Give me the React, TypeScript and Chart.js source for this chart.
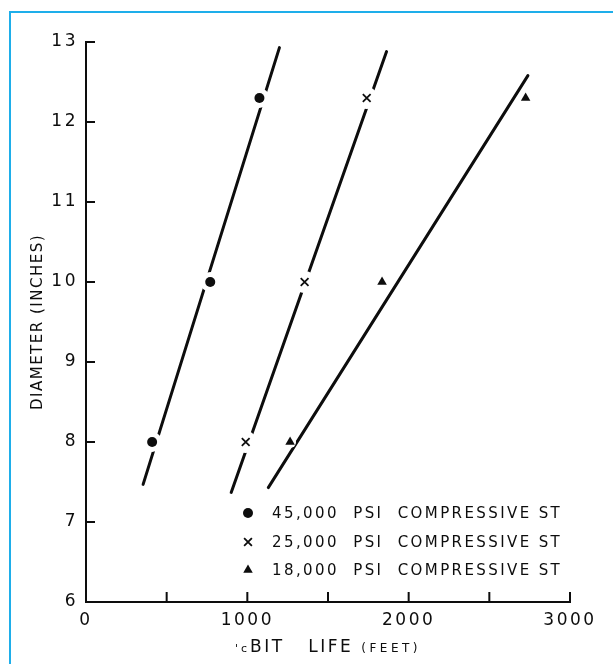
import React, { useEffect, useRef } from 'react';
import { Chart, registerables } from 'chart.js';

Chart.register(...registerables);

// ---- axis ticks ----
const xTickValues = [0, 500, 1000, 1500, 2000, 2500, 3000];
const xTickLabels = ['0', '', '1000', '', '2000', '', '3000'];
const yTickValues = [6, 7, 8, 9, 10, 11, 12, 13];

// ---- titles / legend ----
const xTitleParts = ["'c", 'BIT   LIFE ', '(FEET)'];
const yTitle = 'DIAMETER (INCHES)';
const seriesNames = [
  '45,000  PSI  COMPRESSIVE ST',
  '25,000  PSI  COMPRESSIVE ST',
  '18,000  PSI  COMPRESSIVE ST',
];
const seriesStyles = ['circle', 'crossRot', 'triangle'];

// ---- measured points (bit life in feet, diameter in inches) ----
const life45 = [410, 770, 1075];
const dia45 = [8, 10, 12.3];
const life25 = [990, 1355, 1740];
const dia25 = [8, 10, 12.3];
const life18 = [1265, 1835, 2725];
const dia18 = [8, 10, 12.3];

// ---- fitted lines (end points) ----
const fitLife45 = [354, 1199];
const fitDia45 = [7.47, 12.93];
const fitLife25 = [900, 1863];
const fitDia25 = [7.37, 12.88];
const fitLife18 = [1130, 2739];
const fitDia18 = [7.43, 12.58];

const pts = (xs: number[], ys: number[]) => xs.map((x, i) => ({ x, y: ys[i] }));

const INK = '#0d0d0d';

function drawMarker(ctx: CanvasRenderingContext2D, style: string, x: number, y: number, r: number) {
  ctx.save();
  ctx.fillStyle = INK;
  ctx.strokeStyle = INK;
  if (style === 'circle') {
    ctx.beginPath();
    ctx.arc(x, y, r, 0, Math.PI * 2);
    ctx.fill();
  } else if (style === 'crossRot') {
    const o = r * Math.SQRT1_2;
    ctx.lineWidth = 1.8;
    ctx.beginPath();
    ctx.moveTo(x - o, y - o);
    ctx.lineTo(x + o, y + o);
    ctx.moveTo(x - o, y + o);
    ctx.lineTo(x + o, y - o);
    ctx.stroke();
  } else {
    let a = 0;
    ctx.beginPath();
    ctx.moveTo(x + Math.sin(a) * r, y - Math.cos(a) * r);
    a += (2 * Math.PI) / 3;
    ctx.lineTo(x + Math.sin(a) * r, y - Math.cos(a) * r);
    a += (2 * Math.PI) / 3;
    ctx.lineTo(x + Math.sin(a) * r, y - Math.cos(a) * r);
    ctx.closePath();
    ctx.fill();
  }
  ctx.restore();
}

const decorPlugin = {
  id: 'decor',
  beforeDraw(chart: any) {
    (chart.ctx as any).letterSpacing = '2.5px';
  },
  beforeDatasetsDraw(chart: any) {
    const ctx = chart.ctx as CanvasRenderingContext2D;
    (ctx as any).letterSpacing = '0px';
    const { left, bottom } = chart.chartArea;
    const xs = chart.scales.x;
    const ys = chart.scales.y;
    ctx.save();
    ctx.strokeStyle = INK;
    ctx.lineWidth = 2;
    ctx.beginPath();
    xs.ticks.forEach((t: any) => {
      if (t.value === xs.min) return;
      const px = xs.getPixelForValue(t.value);
      ctx.moveTo(px, bottom);
      ctx.lineTo(px, bottom - 10);
    });
    ys.ticks.forEach((t: any) => {
      if (t.value === ys.min) return;
      const py = ys.getPixelForValue(t.value);
      ctx.moveTo(left, py);
      ctx.lineTo(left + 9, py);
    });
    ctx.stroke();
    ctx.restore();
  },
  afterDraw(chart: any) {
    const ctx = chart.ctx as CanvasRenderingContext2D;
    const { left, right, top, bottom } = chart.chartArea;
    ctx.save();
    ctx.fillStyle = INK;

    // y title
    ctx.save();
    ctx.translate(left - 48, (top + bottom) / 2);
    ctx.rotate(-Math.PI / 2);
    ctx.font = '15px "DejaVu Sans"';
    (ctx as any).letterSpacing = '1.5px';
    ctx.textAlign = 'center';
    ctx.textBaseline = 'middle';
    ctx.fillText(yTitle, 0, 0);
    ctx.restore();

    // x title (mixed sizes)
    const sizes = [11, 17, 12];
    const spacing = [3, 2.5, 3.5];
    let total = 0;
    const widths = xTitleParts.map((t, i) => {
      ctx.font = `${sizes[i]}px "DejaVu Sans"`;
      (ctx as any).letterSpacing = `${spacing[i]}px`;
      const w = ctx.measureText(t).width;
      total += w;
      return w;
    });
    let cx = (left + right) / 2 - total / 2;
    ctx.textAlign = 'left';
    ctx.textBaseline = 'alphabetic';
    xTitleParts.forEach((t, i) => {
      ctx.font = `${sizes[i]}px "DejaVu Sans"`;
      (ctx as any).letterSpacing = `${spacing[i]}px`;
      ctx.fillText(t, cx, bottom + 50);
      cx += widths[i];
    });

    // legend
    const rowOffsets = [471, 500, 528];
    const radii = [5, 5.5, 5.5];
    ctx.font = '15px "DejaVu Sans"';
    (ctx as any).letterSpacing = '2.4px';
    ctx.textBaseline = 'middle';
    seriesNames.forEach((name, i) => {
      const y = top + rowOffsets[i];
      drawMarker(ctx, seriesStyles[i], left + 162, y, radii[i]);
      ctx.fillText(name, left + 186, y + 1);
    });
    ctx.restore();
  },
};

export default function App() {
  const ref = useRef<HTMLCanvasElement>(null);

  useEffect(() => {
    if (!ref.current) return;
    const markerSets = [pts(life45, dia45), pts(life25, dia25), pts(life18, dia18)];
    const fitSets = [pts(fitLife45, fitDia45), pts(fitLife25, fitDia25), pts(fitLife18, fitDia18)];
    const haloRadius = [10, 11, 6];
    const markerRadius = [5, 5.5, 5.5];

    const datasets: any[] = [];
    markerSets.forEach((data, i) => {
      datasets.push({
        label: seriesNames[i],
        data,
        showLine: false,
        pointStyle: seriesStyles[i],
        pointRadius: markerRadius[i],
        pointBackgroundColor: INK,
        pointBorderColor: INK,
        pointBorderWidth: seriesStyles[i] === 'crossRot' ? 1.8 : 0,
        order: 0,
      });
      datasets.push({
        label: 'halo' + i,
        data,
        showLine: false,
        pointStyle: 'circle',
        pointRadius: haloRadius[i],
        pointBackgroundColor: '#ffffff',
        pointBorderWidth: 0,
        order: 1,
      });
      datasets.push({
        label: 'fit' + i,
        data: fitSets[i],
        showLine: true,
        borderColor: INK,
        borderWidth: 3,
        borderCapStyle: 'round',
        pointRadius: 0,
        order: 2,
      });
    });

    const chart = new Chart(ref.current, {
      type: 'scatter',
      data: { datasets },
      options: {
        responsive: false,
        animation: false,
        devicePixelRatio: 1,
        events: [],
        layout: { padding: { left: 0, top: 42, right: 43, bottom: 0 } },
        plugins: {
          legend: { display: false },
          tooltip: { enabled: false },
        },
        scales: {
          x: {
            type: 'linear',
            position: 'bottom',
            min: 0,
            max: 3000,
            afterBuildTicks: (s: any) => {
              s.ticks = xTickValues.map((v) => ({ value: v }));
            },
            afterFit: (s: any) => {
              s.height = 62;
            },
            grid: { display: false, drawTicks: false },
            border: { display: true, color: INK, width: 2 },
            ticks: {
              autoSkip: false,
              maxRotation: 0,
              padding: 8,
              color: INK,
              font: { family: 'DejaVu Sans', size: 17 },
              callback: (_v: any, i: number) => xTickLabels[i],
            },
          },
          y: {
            type: 'linear',
            min: 6,
            max: 13,
            afterBuildTicks: (s: any) => {
              s.ticks = yTickValues.map((v) => ({ value: v }));
            },
            afterFit: (s: any) => {
              s.width = 86;
            },
            grid: { display: false, drawTicks: false },
            border: { display: true, color: INK, width: 2 },
            ticks: {
              padding: 8,
              color: INK,
              font: { family: 'DejaVu Sans', size: 17 },
              callback: (v: any) => String(v),
            },
          },
        },
      } as any,
      plugins: [decorPlugin as any],
    });
    return () => chart.destroy();
  }, []);

  return (
    <div
      style={{
        position: 'fixed',
        left: 0,
        top: 0,
        width: 613,
        height: 664,
        background: '#ffffff',
        overflow: 'hidden',
      }}
    >
      <canvas
        ref={ref}
        width={613}
        height={664}
        style={{ position: 'absolute', left: 0, top: 0, width: 613, height: 664 }}
      />
      <div
        style={{
          position: 'absolute',
          left: 9,
          top: 11,
          width: 800,
          height: 900,
          borderLeft: '2px solid #1eaeea',
          borderTop: '2px solid #1eaeea',
          pointerEvents: 'none',
        }}
      />
    </div>
  );
}
